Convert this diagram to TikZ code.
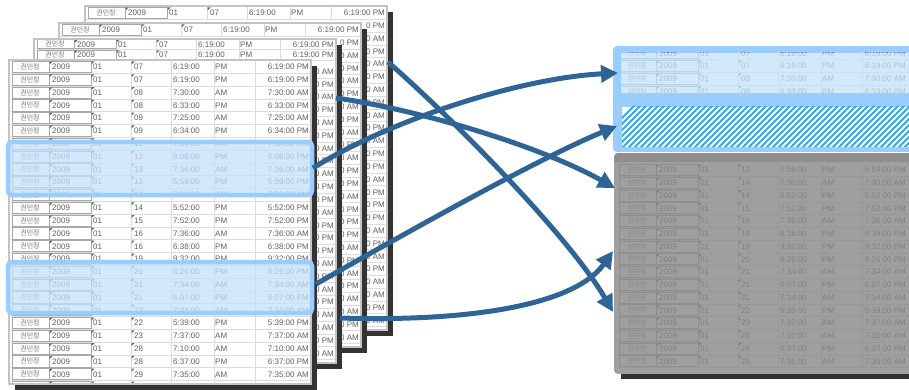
\documentclass[tikz,border=0pt]{standalone}
\usepackage{fontspec}
\setmainfont{Liberation Sans}
\newfontfamily\krfont{Noto Sans CJK KR}
\usetikzlibrary{arrows.meta}
\definecolor{arrowc}{HTML}{2E6496}
\definecolor{hlborder}{HTML}{99CCFF}
\definecolor{hlfill}{HTML}{C4E2FA}
\definecolor{txtc}{HTML}{606060}
\definecolor{krc}{HTML}{777777}
\definecolor{gridc}{HTML}{DCDCDC}
\definecolor{boxc}{HTML}{A8A8A8}
\definecolor{tric}{HTML}{2E8B2E}
\definecolor{sheetborder}{HTML}{C4C4C4}
\definecolor{shadowc}{HTML}{333333}
\definecolor{hatchc}{HTML}{3AA8E0}
\definecolor{grayov}{HTML}{888888}
\definecolor{grayband}{HTML}{8E8E8E}

\def\rowdata{07/6:19:00/PM, 07/6:19:00/PM, 08/7:30:00/AM, 08/6:33:00/PM, 09/7:25:00/AM, 09/6:34:00/PM, 12/7:34:00/AM, 12/8:08:00/PM, 13/7:36:00/AM, 13/5:59:00/PM, 14/7:30:00/AM, 14/5:52:00/PM, 15/7:52:00/PM, 16/7:36:00/AM, 16/6:38:00/PM, 19/9:32:00/PM, 20/8:26:00/PM, 21/7:34:00/AM, 21/6:07:00/PM, 22/7:34:00/AM, 22/5:39:00/PM, 23/7:37:00/AM, 28/7:10:00/AM, 28/6:37:00/PM, 29/7:35:00/AM, 30/5:55:00/PM}

% right end of the date-time column, relative to a table's left edge
\def\dtend{300}

\tikzset{
  gridline/.style={draw=gridc, line width=0.5pt},
  cellbox/.style={draw=boxc, line width=0.6pt},
  celltxt/.style={inner sep=0pt, text=txtc, font=\fontsize{8}{9}\selectfont, text height=5.8pt, text depth=0pt},
  krtxt/.style={inner sep=0pt, text=krc, font=\krfont\fontsize{7}{8}\selectfont},
  hlbox/.style={draw=hlborder, line width=4.5pt, fill=hlfill, fill opacity=0.75, draw opacity=1, rounded corners=4pt},
  arrowline/.style={draw=arrowc, line width=5pt, -{Triangle[length=17pt,width=17pt]}},
}

% full table rows: #1 = left x, #2 = centre of row 0, #3 = row pitch, #4..#5 = rows drawn
\newcommand{\tablerows}[5]{%
  \foreach \dy/\tm/\ap [count=\k from 0] in \rowdata {%
    \ifnum\k<#4\relax\else\ifnum\k>#5\relax\else
      \pgfmathsetmacro\yc{#2+#3*\k}%
      \pgfmathsetmacro\yt{\yc-#3/2}%
      \pgfmathsetmacro\yb{\yc+#3/2}%
      \draw[gridline] (#1,\yb) -- (#1+302,\yb);
      \draw[gridline] (#1+122,\yt) -- (#1+122,\yb) (#1+162,\yt) -- (#1+162,\yb) (#1+205,\yt) -- (#1+205,\yb) (#1+246,\yt) -- (#1+246,\yb);
      \draw[cellbox] (#1+3,\yt+0.8) rectangle (#1+40,\yb-0.8);
      \draw[cellbox] (#1+40,\yt+0.8) rectangle (#1+82,\yb-0.8);
      \fill[tric] (#1+40.5,\yt+1.2) -- ++(3,0) -- ++(-3,3) -- cycle;
      \fill[tric] (#1+82.5,\yt+1) -- ++(3,0) -- ++(-3,3) -- cycle;
      \fill[tric] (#1+122.5,\yt+1) -- ++(3,0) -- ++(-3,3) -- cycle;
      \node[krtxt] at (#1+21,\yc) {권민정};
      \node[celltxt, anchor=west] at (#1+43,\yc) {2009};
      \node[celltxt, anchor=west] at (#1+84,\yc) {01};
      \node[celltxt, anchor=west] at (#1+125,\yc) {\dy};
      \node[celltxt, anchor=west] at (#1+164,\yc) {\tm};
      \node[celltxt, anchor=west] at (#1+206,\yc) {\ap};
      \node[celltxt, anchor=east] at (#1+\dtend,\yc) {\tm\ \ap};
    \fi\fi
  }%
}

% only the right-hand strip of a sheet that shows past the next sheet
\newcommand{\striprows}[5]{%
  \foreach \dy/\tm/\ap [count=\k from 0] in \rowdata {%
    \ifnum\k<#4\relax\else\ifnum\k>#5\relax\else
      \pgfmathsetmacro\yc{#2+#3*\k}%
      \pgfmathsetmacro\yb{\yc+#3/2}%
      \draw[gridline] (#1+270,\yb) -- (#1+302,\yb);
      \node[celltxt, anchor=east] at (#1+300,\yc) {0 \ap};
    \fi\fi
  }%
}

% #1 x, #2 y, #3 number of full rows, #4 centre of first full row, #5 pitch of full rows
\newcommand{\backsheet}[5]{%
  \fill[shadowc] (#1+6,#2+6) rectangle (#1+308,#2+330);
  \fill[white] (#1,#2) rectangle (#1+302,#2+324);
  \begin{scope}
    \clip (#1,#2) rectangle (#1+302,#2+324);
    \pgfmathtruncatemacro\lastfull{#3-1}%
    \tablerows{#1}{#4}{#5}{0}{\lastfull}
    \striprows{#1}{#2+6.9}{12.8}{#3}{25}
  \end{scope}
  \draw[draw=sheetborder, line width=2pt] (#1,#2) rectangle (#1+302,#2+324);
}

\newcommand{\papersheet}[2]{%
  \fill[shadowc] (#1+6,#2+6) rectangle (#1+308,#2+330);
  \fill[white] (#1,#2) rectangle (#1+302,#2+324);
  \begin{scope}
    \clip (#1,#2) rectangle (#1+302,#2+324);
    \tablerows{#1}{#2+6.9}{12.8}{0}{25}
  \end{scope}
  \draw[draw=sheetborder, line width=2pt] (#1,#2) rectangle (#1+302,#2+324);
}

\begin{document}
\begin{tikzpicture}[x=1pt, y=-1pt]
\useasboundingbox (0,0) rectangle (909,390);
\clip (0,0) rectangle (909,390);

% stacked sheets, back to front
\backsheet{85}{6}{1}{12.9}{12.8}
\backsheet{59}{23}{1}{29.9}{12.8}
\backsheet{34}{39}{2}{44.2}{10.5}
\papersheet{9}{60}

% highlighted rows on the front sheet
\draw[hlbox] (8,142) rectangle (312,195);
\draw[hlbox] (8,262) rectangle (312,313);

% right panel (its date-time column ends inside the picture)
\def\dtend{290}
% blue frame with highlighted rows
\fill[hlborder, rounded corners=4pt] (613,46) rectangle (925,152);
\begin{scope}
  \clip (621,53) rectangle (925,93);
  \fill[white] (621,53) rectangle (925,93);
  \tablerows{616}{53.2}{12.77}{0}{3}
  \fill[hlfill, fill opacity=0.75] (621,53) rectangle (925,93);
\end{scope}
% hatched block
\begin{scope}
  \clip (622,107) rectangle (925,147);
  \fill[white] (622,107) rectangle (925,147);
  \foreach \i in {0,...,60} {\draw[hatchc, line width=2pt] (590+6*\i,150) -- ++(46,-46);}
\end{scope}

% grey block
\fill[shadowc] (621,372) rectangle (925,379);
\begin{scope}
  \clip[rounded corners=4pt] (614,153) rectangle (925,374);
  \fill[white] (614,153) rectangle (925,374);
  \begin{scope}
    \clip (614,163) rectangle (925,374);
    \tablerows{616}{55.2}{12.75}{9}{24}
  \end{scope}
  \fill[grayov, fill opacity=0.8] (614,153) rectangle (925,374);
  \fill[grayband] (614,153) rectangle (925,162);
\end{scope}

% connector end points
\coordinate (a1s) at (388,62);   \coordinate (a1e) at (613,312);
\coordinate (a2s) at (336,98);   \coordinate (a2e) at (615,188);
\coordinate (a3s) at (313,168);  \coordinate (a3e) at (618,73);
\coordinate (a4s) at (316,284);  \coordinate (a4e) at (617,126);
\coordinate (a5s) at (340,318);  \coordinate (a5e) at (613,251);

\draw[arrowline] (a1s) .. controls (463,128) and (572,241) .. (a1e);
\draw[arrowline] (a2s) .. controls (420,110) and (540,146) .. (a2e);
\draw[arrowline] (a3s) .. controls (390,120) and (520,78) .. (a3e);
\draw[arrowline] (a4s) .. controls (420,225) and (540,158) .. (a4e);
\draw[arrowline] (a5s) .. controls (470,322) and (575,305) .. (a5e);
\end{tikzpicture}
\end{document}
